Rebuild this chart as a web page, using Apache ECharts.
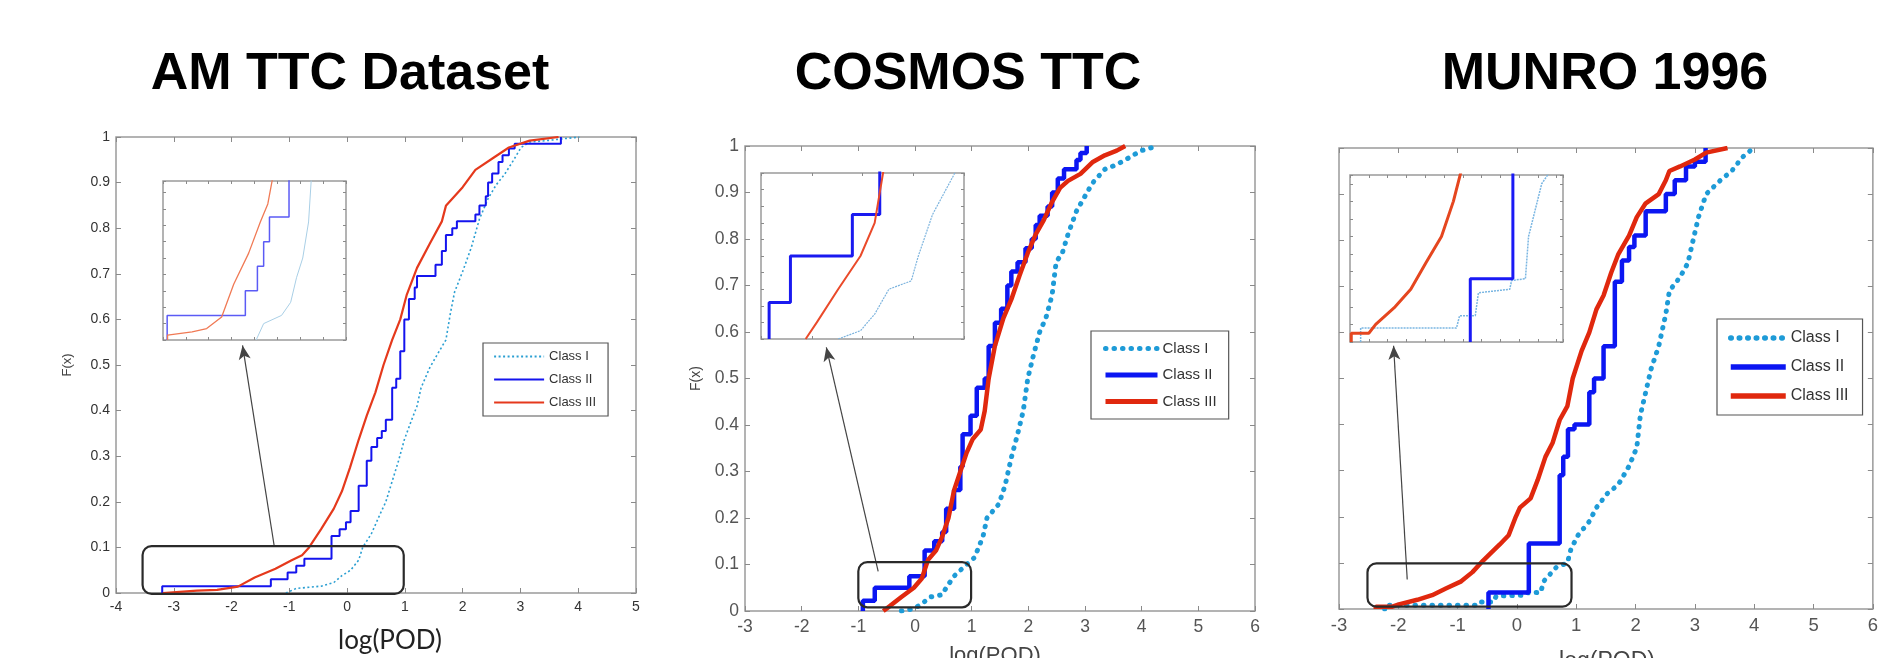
<!DOCTYPE html>
<html>
<head>
<meta charset="utf-8">
<script src="https://cdn.jsdelivr.net/npm/echarts/dist/echarts.min.js"></script>
<style>
html, body { margin: 0; padding: 0; background: #fff; }
#main { width: 1881px; height: 658px; }
</style>
</head>
<body>
<div id="main"></div>
<script>
var panelTitles = ['AM TTC Dataset', 'COSMOS TTC', 'MUNRO 1996'];
var classNames = ['Class I', 'Class II', 'Class III'];
var xAxisTitle = 'log(POD)';
var yAxisTitle = 'F(x)';

var amClassI = [[-1.06,0],[-0.88,0.01],[-0.45,0.015],[-0.23,0.023],[-0.09,0.038],[0.06,0.05],[0.2,0.072],[0.27,0.1],[0.42,0.13],[0.56,0.17],[0.67,0.2],[0.78,0.245],[0.89,0.29],[0.99,0.336],[1.1,0.374],[1.21,0.41],[1.28,0.45],[1.43,0.494],[1.57,0.525],[1.71,0.555],[1.79,0.615],[1.86,0.66],[2.0,0.705],[2.15,0.758],[2.29,0.82],[2.44,0.865],[2.58,0.895],[2.72,0.917],[2.87,0.947],[3.01,0.977],[3.16,0.989],[3.45,0.992],[3.73,0.996],[4.02,1.0]];
var amClassII = [[-3.2,0],[-3.2,0.015],[-1.32,0.03],[-1.03,0.045],[-0.88,0.06],[-0.74,0.075],[-0.27,0.125],[-0.13,0.14],[-0.02,0.155],[0.06,0.18],[0.2,0.235],[0.34,0.29],[0.42,0.32],[0.52,0.34],[0.6,0.355],[0.67,0.38],[0.78,0.45],[0.85,0.47],[0.92,0.53],[0.99,0.6],[1.07,0.645],[1.17,0.67],[1.21,0.695],[1.53,0.72],[1.64,0.75],[1.71,0.785],[1.82,0.8],[1.9,0.815],[2.22,0.83],[2.29,0.85],[2.4,0.87],[2.44,0.9],[2.51,0.92],[2.62,0.945],[2.69,0.96],[2.8,0.975],[2.9,0.985],[3.7,1.0]];
var amClassIII = [[-3.19,0],[-3.19,0.003],[-2.6,0.005],[-2.25,0.007],[-1.89,0.014],[-1.6,0.034],[-1.24,0.053],[-0.96,0.072],[-0.78,0.083],[-0.67,0.098],[-0.45,0.14],[-0.23,0.185],[-0.09,0.223],[0.05,0.275],[0.2,0.336],[0.34,0.389],[0.49,0.44],[0.63,0.5],[0.78,0.555],[0.92,0.6],[1.03,0.653],[1.21,0.713],[1.43,0.766],[1.64,0.815],[1.71,0.849],[2.0,0.89],[2.22,0.928],[2.54,0.955],[2.8,0.977],[3.16,0.992],[3.66,1.0]];

var cosmosClassI = [[-0.24,0],[-0.02,0.005],[0.12,0.015],[0.26,0.03],[0.48,0.035],[0.55,0.05],[0.69,0.075],[0.91,0.1],[1.05,0.115],[1.2,0.16],[1.27,0.2],[1.48,0.23],[1.59,0.27],[1.7,0.33],[1.81,0.38],[1.91,0.43],[1.99,0.5],[2.09,0.55],[2.2,0.6],[2.31,0.63],[2.42,0.68],[2.49,0.75],[2.6,0.77],[2.7,0.81],[2.85,0.86],[2.99,0.89],[3.13,0.92],[3.35,0.95],[3.56,0.96],[3.78,0.975],[3.99,0.99],[4.28,1.0]];
var cosmosClassII = [[-0.92,0],[-0.92,0.022],[-0.71,0.05],[-0.1,0.075],[0.17,0.13],[0.34,0.15],[0.48,0.17],[0.55,0.22],[0.69,0.26],[0.8,0.31],[0.84,0.38],[0.98,0.42],[1.09,0.48],[1.23,0.5],[1.3,0.57],[1.41,0.62],[1.52,0.65],[1.63,0.7],[1.7,0.73],[1.81,0.75],[1.95,0.78],[2.06,0.8],[2.13,0.83],[2.2,0.85],[2.34,0.87],[2.42,0.9],[2.52,0.93],[2.63,0.95],[2.85,0.97],[2.92,0.985],[3.03,1.0]];
var cosmosClassIII = [[-0.56,0],[-0.45,0.01],[-0.24,0.03],[-0.02,0.05],[0.12,0.07],[0.23,0.11],[0.37,0.13],[0.48,0.16],[0.59,0.2],[0.69,0.26],[0.8,0.3],[0.91,0.34],[1.02,0.37],[1.16,0.39],[1.23,0.43],[1.3,0.5],[1.41,0.57],[1.56,0.63],[1.7,0.67],[1.84,0.72],[1.99,0.77],[2.13,0.81],[2.27,0.84],[2.42,0.88],[2.56,0.91],[2.7,0.925],[2.92,0.94],[3.13,0.965],[3.35,0.98],[3.56,0.99],[3.71,1.0]];

var munroClassI = [[-2.23,0],[-2.23,0.008],[-0.7,0.008],[-0.65,0.015],[-0.4,0.015],[-0.35,0.028],[0.15,0.03],[0.18,0.035],[0.4,0.036],[0.45,0.06],[0.66,0.09],[0.85,0.1],[0.91,0.13],[1.03,0.16],[1.22,0.19],[1.34,0.22],[1.52,0.25],[1.71,0.27],[1.89,0.31],[2.02,0.35],[2.08,0.42],[2.17,0.47],[2.26,0.52],[2.39,0.57],[2.51,0.64],[2.57,0.69],[2.75,0.72],[2.88,0.75],[2.97,0.8],[3.06,0.85],[3.19,0.9],[3.43,0.93],[3.62,0.95],[3.8,0.98],[3.99,1.0]];
var munroClassII = [[-0.48,0],[-0.48,0.036],[0.2,0.142],[0.72,0.29],[0.78,0.33],[0.86,0.39],[0.97,0.4],[1.22,0.47],[1.3,0.5],[1.46,0.57],[1.65,0.71],[1.77,0.756],[1.89,0.785],[1.98,0.81],[2.17,0.863],[2.51,0.9],[2.66,0.93],[2.85,0.96],[3.0,0.97],[3.18,1.0]];
var munroClassIII = [[-2.38,0],[-2.38,0.005],[-2.1,0.005],[-1.99,0.01],[-1.68,0.02],[-1.43,0.03],[-1.19,0.045],[-0.94,0.06],[-0.75,0.08],[-0.57,0.105],[-0.45,0.12],[-0.29,0.14],[-0.14,0.16],[-0.02,0.2],[0.05,0.22],[0.23,0.24],[0.35,0.28],[0.48,0.33],[0.6,0.36],[0.72,0.41],[0.85,0.44],[0.94,0.5],[1.09,0.56],[1.22,0.6],[1.34,0.65],[1.46,0.68],[1.59,0.73],[1.71,0.77],[1.89,0.81],[2.02,0.85],[2.17,0.88],[2.39,0.9],[2.51,0.93],[2.57,0.95],[2.75,0.96],[3.0,0.975],[3.19,0.99],[3.55,1.0]];

// zoom box [x0, y0, x1, y1] and arrow [xFrom, yFrom, xTo, yTo], data units
var zoomBoxes = [[-3.54, -0.002, 0.98, 0.103], [-1.0, 0.008, 0.99, 0.105], [-2.52, 0.005, 0.92, 0.099]];
var zoomArrows = [[-1.26, 0.102, -1.81, 0.543], [-0.65, 0.085, -1.565, 0.567], [-1.85, 0.064, -2.08, 0.571]];

var panelData = [
    [amClassI, amClassII, amClassIII],
    [cosmosClassI, cosmosClassII, cosmosClassIII],
    [munroClassI, munroClassII, munroClassIII]
];

var thinStyles = [
    { color: '#2b9fd2', width: 1.6, type: [2, 2.5] },
    { color: '#1414ee', width: 2 },
    { color: '#e5391c', width: 2.2 }
];
var thickStyles = [
    { color: '#1e9bd7', width: 5, type: [0.5, 8], cap: 'round' },
    { color: '#0b16f2', width: 4.5 },
    { color: '#e0280e', width: 4.5 }
];

var layouts = [
    {
        key: 'am', titleX: 350,
        main: { left: 116, top: 137, width: 520, height: 456, xMin: -4, xMax: 5 },
        inset: { left: 163, top: 181, width: 183, height: 159, xMin: -3.3, xMax: 1.1, xInt: 0.55, yMax: 0.097 },
        legend: { left: 483, top: 343, padding: [7, 12, 7, 10], itemWidth: 50, itemHeight: 14, itemGap: 10, fontSize: 13, lineWidth: 2.2 },
        labelSize: 14, labelColor: '#333', yLabels: true,
        xName: { x: 390, y: 641, size: 26, font: 'Lato', color: '#222' }, yName: { gap: 42, size: 13 },
        styles: thinStyles,
        insetStyles: [
            { color: '#a9cfe6', width: 1 },
            { color: '#5b5bf5', width: 1.5 },
            { color: '#f07a55', width: 1.3 }
        ]
    },
    {
        key: 'cosmos', titleX: 968,
        main: { left: 745, top: 146, width: 510, height: 465, xMin: -3, xMax: 6 },
        inset: { left: 761, top: 173, width: 203, height: 166, xMin: -1, xMax: 1, xInt: 0.5, yMax: 0.1 },
        legend: { left: 1091, top: 331, padding: [10, 12, 10, 12], itemWidth: 52, itemHeight: 16, itemGap: 11.5, fontSize: 15, lineWidth: 5 },
        labelSize: 17.5, labelColor: '#555', yLabels: true,
        xName: { x: 995, y: 656, size: 22, font: 'Liberation Sans', color: '#444' }, yName: { gap: 42, size: 14 },
        styles: thickStyles,
        insetStyles: [
            { color: '#7db4de', width: 1.2, type: [2, 1] },
            { color: '#1a1af0', width: 3 },
            { color: '#ea4a2a', width: 2 }
        ]
    },
    {
        key: 'munro', titleX: 1605,
        main: { left: 1339, top: 148, width: 545, height: 461, xMin: -3, xMax: 6 },
        inset: { left: 1350, top: 175, width: 213, height: 167, xMin: -2.4, xMax: 1.0, xInt: 0.3, yMax: 0.095 },
        legend: { left: 1717, top: 319, padding: [11, 14, 11, 11], itemWidth: 55, itemHeight: 16, itemGap: 13, fontSize: 16, lineWidth: 5.5 },
        labelSize: 18.5, labelColor: '#555', yLabels: false,
        xName: { x: 1607, y: 662, size: 23, font: 'Liberation Sans', color: '#444' }, yName: null,
        styles: thickStyles,
        insetStyles: [
            { color: '#7ab6e2', width: 1.5, type: [2, 1] },
            { color: '#1a1af5', width: 3 },
            { color: '#e5461f', width: 3 }
        ]
    }
];

var dom = document.getElementById('main');
var myChart = echarts.init(dom, null, { renderer: 'canvas' });

var grids = [], xAxes = [], yAxes = [], series = [], legends = [], titles = [], texts = [];
var frameColor = '#9a9a9a';

function tick(len) {
    return { show: true, inside: true, length: len, lineStyle: { color: '#8a8a8a', width: 1 } };
}

function addFrame(box, xMin, xMax, xInt, yMax, yInt, tickLen, labels) {
    var g = grids.length;
    grids.push({
        left: box.left, top: box.top, width: box.width, height: box.height,
        show: true, borderColor: frameColor, borderWidth: 1.5, backgroundColor: '#fff'
    });
    var xi = xAxes.length, yi = yAxes.length;
    ['bottom', 'top'].forEach(function (pos, k) {
        xAxes.push({
            type: 'value', gridIndex: g, position: pos, min: xMin, max: xMax, interval: xInt,
            axisLine: { show: false, onZero: false }, splitLine: { show: false }, axisTick: tick(tickLen),
            axisLabel: k === 0 && labels ? labels.x : { show: false }
        });
    });
    ['left', 'right'].forEach(function (pos, k) {
        yAxes.push({
            type: 'value', gridIndex: g, position: pos, min: 0, max: yMax, interval: yInt,
            axisLine: { show: false, onZero: false }, splitLine: { show: false }, axisTick: tick(tickLen),
            axisLabel: k === 0 && labels && labels.y ? labels.y : { show: false }
        });
    });
    return { x: xi, y: yi };
}

layouts.forEach(function (L, p) {
    titles.push({
        text: panelTitles[p], left: L.titleX, top: 49, textAlign: 'center', padding: 0,
        textStyle: { fontFamily: 'Liberation Sans', fontWeight: 'bold', fontSize: 52, color: '#000' }
    });

    var labelStyle = { fontFamily: 'Liberation Sans', fontSize: L.labelSize, color: L.labelColor };
    var main = addFrame(L.main, L.main.xMin, L.main.xMax, 1, 1, 0.1, 5, {
        x: Object.assign({ show: true, margin: 7 }, labelStyle),
        y: L.yLabels ? Object.assign({ show: true, margin: 6 }, labelStyle) : null
    });

    // x-axis title sits partly below the picture edge in the source, so it is placed as free text
    texts.push({
        type: 'text', x: L.xName.x, y: L.xName.y, silent: true,
        style: {
            text: xAxisTitle, fill: L.xName.color,
            font: L.xName.size + 'px "' + L.xName.font + '"',
            align: 'center', verticalAlign: 'middle', textAlign: 'center', textVerticalAlign: 'middle'
        }
    });
    if (L.yName) {
        var yl = yAxes[main.y];
        yl.name = yAxisTitle;
        yl.nameLocation = 'middle';
        yl.nameGap = L.yName.gap;
        yl.nameTextStyle = { fontFamily: 'Liberation Sans', fontSize: L.yName.size, color: '#444' };
    }

    var ins = addFrame(L.inset, L.inset.xMin, L.inset.xMax, L.inset.xInt, L.inset.yMax, 0.01, 3, null);

    var names = [];
    panelData[p].forEach(function (values, c) {
        var name = L.key + '|' + classNames[c];
        names.push(name);
        var s = {
            type: 'line', name: name, data: values,
            xAxisIndex: main.x, yAxisIndex: main.y,
            step: c === 1 ? 'end' : false,
            symbol: 'none', showSymbol: false,
            itemStyle: { color: L.styles[c].color },
            lineStyle: Object.assign({}, L.styles[c]),
            clip: true, silent: true, z: 3 + c
        };
        if (c === 0) {
            var a = zoomArrows[p];
            s.markLine = {
                silent: true, animation: false,
                symbol: ['none', 'arrow'], symbolSize: [9, 14],
                label: { show: false },
                itemStyle: { color: '#222' },
                lineStyle: { color: '#444', width: 1.2, type: 'solid' },
                data: [[{ coord: [a[0], a[1]] }, { coord: [a[2], a[3]] }]]
            };
        }
        series.push(s);
        series.push({
            type: 'line', name: name, data: values,
            xAxisIndex: ins.x, yAxisIndex: ins.y,
            step: c === 1 ? 'end' : false,
            symbol: 'none', showSymbol: false,
            lineStyle: Object.assign({}, L.insetStyles[c]),
            clip: true, silent: true, z: 3 + c
        });
    });

    series.push({
        type: 'custom', xAxisIndex: main.x, yAxisIndex: main.y, silent: true, z: 10,
        data: [zoomBoxes[p]],
        renderItem: function (params, api) {
            var p0 = api.coord([api.value(0), api.value(3)]);
            var p1 = api.coord([api.value(2), api.value(1)]);
            return {
                type: 'rect',
                shape: { x: p0[0], y: p0[1], width: p1[0] - p0[0], height: p1[1] - p0[1], r: 9 },
                style: { fill: 'none', stroke: '#2a2a2a', lineWidth: 2.2 }
            };
        }
    });

    legends.push({
        data: names, orient: 'vertical',
        left: L.legend.left, top: L.legend.top, padding: L.legend.padding,
        itemWidth: L.legend.itemWidth, itemHeight: L.legend.itemHeight, itemGap: L.legend.itemGap,
        borderColor: '#555', borderWidth: 1.2, backgroundColor: '#fff',
        selectedMode: false,
        itemStyle: { color: 'rgba(0,0,0,0)', borderWidth: 0, opacity: 0 },
        lineStyle: { width: L.legend.lineWidth },
        formatter: function (n) { return n.split('|')[1]; },
        textStyle: { fontFamily: 'Liberation Sans', fontSize: L.legend.fontSize, color: '#333' }
    });
});

var option = {
    animation: false,
    backgroundColor: '#fff',
    title: titles,
    legend: legends,
    graphic: texts,
    grid: grids,
    xAxis: xAxes,
    yAxis: yAxes,
    series: series
};

if (option && typeof option === 'object') {
    myChart.setOption(option);
}

window.addEventListener('resize', myChart.resize);
</script>
</body>
</html>
